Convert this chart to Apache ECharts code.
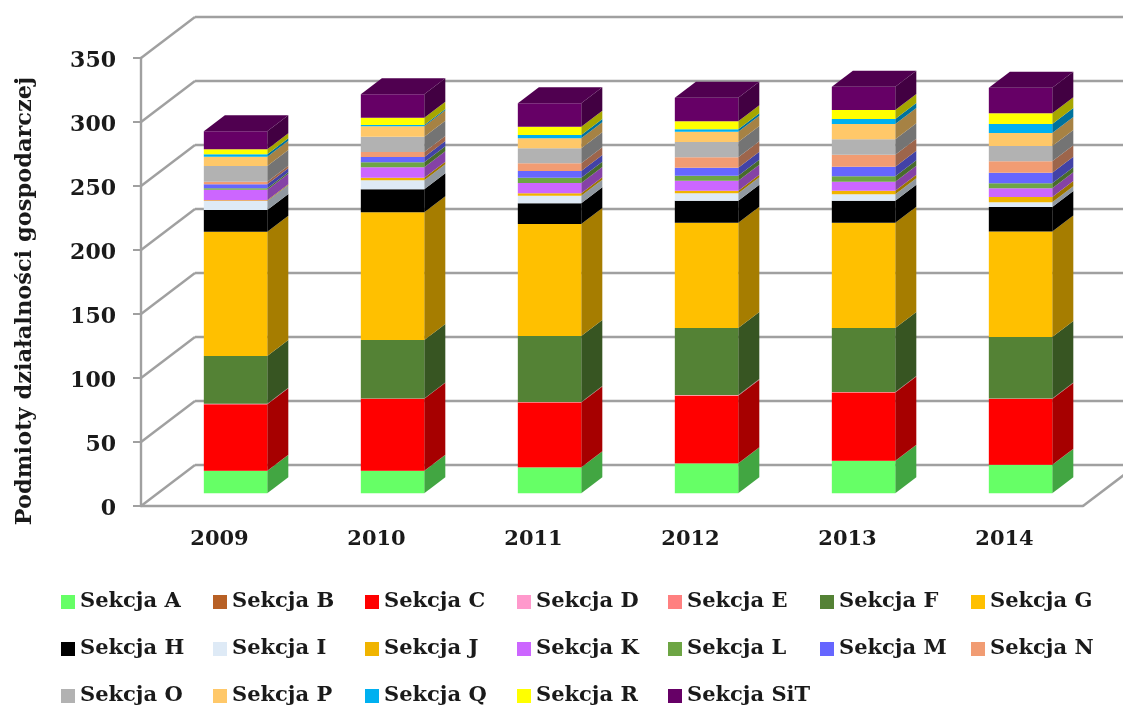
<!DOCTYPE html>
<html>
<head>
<meta charset="utf-8">
<title>Podmioty działalności gospodarczej</title>
<script src="https://cdn.jsdelivr.net/npm/echarts@6/dist/echarts.min.js"></script>
<style>
    html, body { margin: 0; padding: 0; background: #fff; }
    #chart { width: 1123px; height: 707px; }
</style>
</head>
<body>
<div id="chart"></div>
<script>
const years = ['2009', '2010', '2011', '2012', '2013', '2014'];
const yTicks = [0, 50, 100, 150, 200, 250, 300, 350];

const sekcjaA = [17.4, 17.4, 20.2, 23.3, 25.2, 22.1];
const sekcjaB = [0.2, 0.2, 0.2, 0.2, 0.2, 0.2];
const sekcjaC = [52, 56.2, 50.5, 52.8, 53.3, 51.3];
const sekcjaD = [0.1, 0.1, 0.1, 0.1, 0.1, 0.1];
const sekcjaE = [0.3, 0.2, 0.3, 0.4, 0.3, 0.4];
const sekcjaF = [37.3, 45.7, 51.6, 52.3, 50, 48];
const sekcjaG = [97.1, 99.7, 87.5, 82.3, 82.3, 82.4];
const sekcjaH = [16.9, 18, 16.2, 17.2, 17.2, 19.2];
const sekcjaI = [7.1, 7, 5.9, 5.8, 5, 3.6];
const sekcjaJ = [0.5, 2.1, 1.9, 2, 2.8, 4.2];
const sekcjaK = [8.3, 8.1, 8, 7.8, 7, 6.8];
const sekcjaL = [1.1, 3.9, 4.2, 3.9, 4.3, 3.9];
const sekcjaM = [3.1, 4.1, 5.2, 6.3, 7.5, 8.3];
const sekcjaN = [2, 3.9, 6, 8.1, 9.3, 8.9];
const sekcjaO = [12.3, 12, 11.7, 12, 12.1, 11.9];
const sekcjaP = [7.3, 8.1, 7.8, 8, 11.9, 10.2];
const sekcjaQ = [1.8, 1, 2.6, 1.9, 3.9, 7];
const sekcjaR = [4, 5.7, 6.5, 6.2, 7.1, 8.4];
const sekcjaSiT = [14, 18.3, 18.3, 18.5, 18.2, 20];

const sectionNames = ['Sekcja A', 'Sekcja B', 'Sekcja C', 'Sekcja D', 'Sekcja E', 'Sekcja F', 'Sekcja G',
    'Sekcja H', 'Sekcja I', 'Sekcja J', 'Sekcja K', 'Sekcja L', 'Sekcja M', 'Sekcja N',
    'Sekcja O', 'Sekcja P', 'Sekcja Q', 'Sekcja R', 'Sekcja SiT'];
const sectionValues = [sekcjaA, sekcjaB, sekcjaC, sekcjaD, sekcjaE, sekcjaF, sekcjaG,
    sekcjaH, sekcjaI, sekcjaJ, sekcjaK, sekcjaL, sekcjaM, sekcjaN,
    sekcjaO, sekcjaP, sekcjaQ, sekcjaR, sekcjaSiT];
const sectionColors = ['#66FF66', '#B86025', '#FF0000', '#FF99CC', '#FF8080', '#548235', '#FFC000',
    '#000000', '#DEEAF6', '#F0B400', '#CC66FF', '#6DA544', '#6666FF', '#F19C73',
    '#B2B2B2', '#FFC869', '#00B0F0', '#FFFF00', '#660066'];

// pseudo 3D depth of the chart box, in pixels
const depthX = 54, depthY = -41;
const barFront = 0.31, barBack = 0.70, barWidth = 0.404, barShift = -0.7;
const axisColor = '#A0A0A0';
const fontName = 'DejaVu Serif';

function shade(color, k) {
    let c = echarts.color.parse(color);
    return 'rgb(' + Math.round(c[0] * k) + ',' + Math.round(c[1] * k) + ',' + Math.round(c[2] * k) + ')';
}

function renderWall(params, api) {
    let v = api.value(0);
    let start = api.coord([0, v]);
    let left = params.coordSys.x;
    let right = left + params.coordSys.width;
    let frontY = start[1];
    let backY = frontY + depthY;
    let lineStyle = { stroke: axisColor, lineWidth: 2.4 };
    let children = [{
        type: 'line',
        shape: { x1: left, y1: frontY, x2: left + depthX, y2: backY },
        style: lineStyle
    }, {
        type: 'line',
        shape: { x1: left + depthX, y1: backY, x2: right + depthX, y2: backY },
        style: lineStyle
    }];
    if (v === 0) {
        children.push({
            type: 'line',
            shape: { x1: right, y1: frontY, x2: right + depthX, y2: backY },
            style: lineStyle
        });
    }
    return { type: 'group', children: children };
}

function renderSection(color, isLast) {
    return function (params, api) {
        let low = api.coord([api.value(0), api.value(1)]);
        let high = api.coord([api.value(0), api.value(2)]);
        let w = api.size([1, 0])[0] * barWidth;
        let x0 = low[0] - w / 2 + depthX * barFront + barShift;
        let x1 = x0 + w;
        let fy = depthY * barFront;
        let y0 = low[1] + fy;
        let y1 = high[1] + fy;
        let dx = depthX * (barBack - barFront);
        let dy = depthY * (barBack - barFront);
        let children = [{
            type: 'polygon',
            shape: { points: [[x1, y0], [x1 + dx, y0 + dy], [x1 + dx, y1 + dy], [x1, y1]] },
            style: { fill: shade(color, 0.65) }
        }, {
            type: 'polygon',
            shape: { points: [[x0, y0], [x1, y0], [x1, y1], [x0, y1]] },
            style: { fill: color }
        }];
        if (isLast) {
            children.push({
                type: 'polygon',
                shape: { points: [[x0, y1], [x1, y1], [x1 + dx, y1 + dy], [x0 + dx, y1 + dy]] },
                style: { fill: shade(color, 0.78) }
            });
        }
        return { type: 'group', children: children };
    };
}

let seriesArr = [{
    name: 'wall',
    type: 'custom',
    renderItem: renderWall,
    clip: false,
    silent: true,
    encode: { y: 0 },
    data: yTicks.map(v => [v])
}];

let totals = years.map(() => 0);
sectionNames.forEach((name, s) => {
    let rows = years.map((y, i) => {
        let row = [i, totals[i], totals[i] + sectionValues[s][i]];
        totals[i] = row[2];
        return row;
    });
    seriesArr.push({
        name: name,
        type: 'custom',
        renderItem: renderSection(sectionColors[s], s === sectionNames.length - 1),
        clip: false,
        itemStyle: { color: sectionColors[s] },
        encode: { x: 0, y: [1, 2] },
        data: rows
    });
});

// one legend per column, the reference keeps its entries on a fixed raster
const legendColumns = [
    ['Sekcja A', 'Sekcja H', 'Sekcja O'],
    ['Sekcja B', 'Sekcja I', 'Sekcja P'],
    ['Sekcja C', 'Sekcja J', 'Sekcja Q'],
    ['Sekcja D', 'Sekcja K', 'Sekcja R'],
    ['Sekcja E', 'Sekcja L', 'Sekcja SiT'],
    ['Sekcja F', 'Sekcja M'],
    ['Sekcja G', 'Sekcja N']
];
const legendLeft = [61, 213, 365, 517, 668, 820, 971];

const option = {
    animation: false,
    backgroundColor: '#fff',
    grid: { left: 141, right: 40, top: 58, bottom: 201 },
    legend: legendColumns.map((col, i) => ({
        orient: 'vertical',
        left: legendLeft[i],
        top: 591,
        padding: 0,
        itemGap: 25,
        itemWidth: 14,
        itemHeight: 14,
        icon: 'rect',
        selectedMode: false,
        textStyle: { fontFamily: fontName, fontWeight: 'bold', fontSize: 21, color: '#1a1a1a', lineHeight: 22 },
        data: col
    })),
    xAxis: {
        type: 'category',
        data: years,
        axisLine: { lineStyle: { color: axisColor, width: 2.4 } },
        axisTick: { length: 7, lineStyle: { color: axisColor, width: 2 } },
        axisLabel: { margin: 23, fontFamily: fontName, fontWeight: 'bold', fontSize: 21, color: '#1a1a1a' }
    },
    yAxis: {
        type: 'value',
        min: 0,
        max: 350,
        interval: 50,
        splitLine: { show: false },
        axisLine: { show: true, lineStyle: { color: axisColor, width: 2.4 } },
        axisTick: { show: true, length: 8, lineStyle: { color: axisColor, width: 2 } },
        // top aligned with a short line box, pushes the digits a little under the tick
        axisLabel: { margin: 25, verticalAlign: 'top', lineHeight: 7, fontFamily: fontName, fontWeight: 'bold', fontSize: 22, color: '#1a1a1a' }
    },
    graphic: [{
        type: 'text',
        x: 25,
        y: 301,
        rotation: Math.PI / 2,
        style: {
            text: 'Podmioty działalności gospodarczej',
            font: 'bold 22.5px "' + fontName + '"',
            fill: '#1a1a1a',
            textAlign: 'center',
            textVerticalAlign: 'middle'
        }
    }],
    series: seriesArr
};

let chart = echarts.init(document.getElementById('chart'));
chart.setOption(option);
</script>
</body>
</html>
